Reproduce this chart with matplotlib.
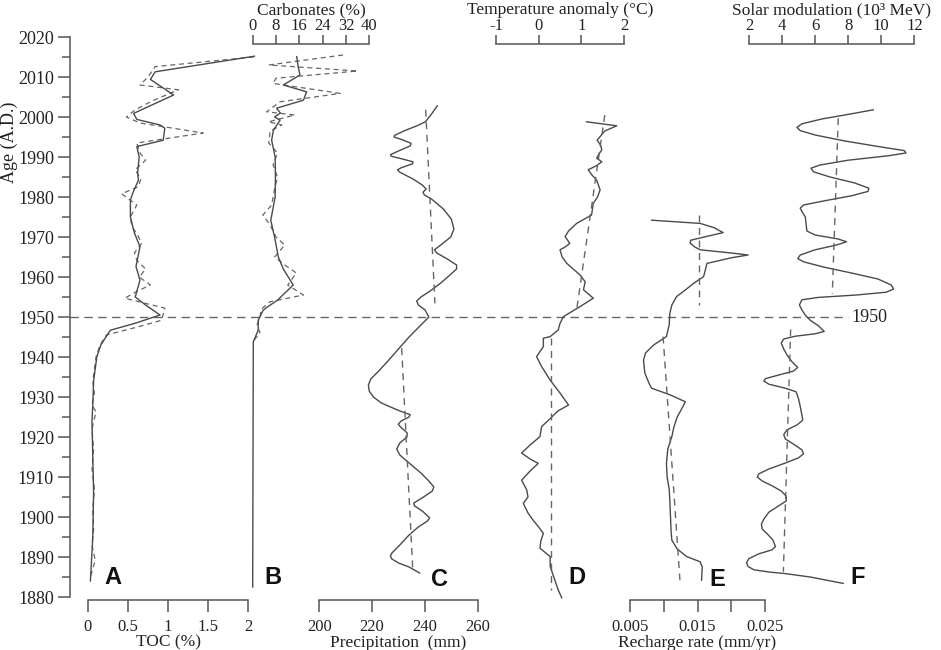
import matplotlib.pyplot as plt
from matplotlib.ticker import MultipleLocator

plt.rcParams['font.family'] = ['Liberation Serif', 'DejaVu Serif']

# ---------------- data ----------------
# A: TOC (%), smoothed and raw
toc_year = [2015.2, 2011.3, 2009.4, 2005.5, 2000.9, 1999.4, 1998.0, 1997.2, 1994.2, 1992.6,
            1990.0, 1986.0, 1984.2, 1981.0, 1979.2, 1975.0, 1971.0, 1967.6, 1962.6, 1959.2,
            1955.0, 1953.0, 1950.5, 1948.5, 1946.7, 1943.0, 1940.0, 1934.0, 1928.0, 1924.0,
            1915.0, 1906.0, 1895.0, 1884.0]
toc_smooth = [2.08, 0.84, 0.78, 1.07, 0.57, 0.61, 0.90, 0.96, 0.94, 0.61,
              0.64, 0.62, 0.63, 0.56, 0.53, 0.53, 0.58, 0.65, 0.60, 0.65,
              0.59, 0.72, 0.90, 0.60, 0.28, 0.16, 0.11, 0.07, 0.06, 0.05,
              0.06, 0.07, 0.06, 0.03]
toc_raw_year = [2015.0, 2012.6, 2010.0, 2008.0, 2006.8, 2004.0, 2001.8, 2000.0, 1998.5, 1996.0,
                1993.5, 1991.0, 1989.2, 1986.8, 1984.5, 1982.6, 1980.8, 1978.0, 1975.0, 1972.6,
                1970.5, 1968.4, 1966.0, 1964.2, 1962.0, 1960.0, 1958.0, 1956.5, 1954.7, 1952.2,
                1949.2, 1947.5, 1945.5, 1943.0, 1940.0, 1937.0, 1934.0, 1930.9, 1928.0, 1926.3,
                1922.0, 1917.0, 1912.0, 1907.0, 1902.0, 1897.0, 1893.0, 1889.2, 1885.0]
toc_raw = [2.07, 0.84, 0.75, 0.65, 1.13, 0.80, 0.59, 0.48, 0.65, 1.44,
           0.61, 0.65, 0.72, 0.59, 0.66, 0.63, 0.42, 0.61, 0.53, 0.55,
           0.62, 0.67, 0.58, 0.61, 0.72, 0.64, 0.78, 0.62, 0.46, 0.96,
           0.92, 0.62, 0.23, 0.15, 0.10, 0.08, 0.06, 0.08, 0.05, 0.10,
           0.05, 0.07, 0.05, 0.08, 0.06, 0.07, 0.05, 0.09, 0.03]

# B: carbonates (%)
carb_year = [2015.1, 2013.0, 2010.5, 2008.0, 2006.3, 2004.2, 2002.2, 2001.0, 2000.0, 1999.2,
             1996.7, 1994.2, 1990.0, 1985.0, 1980.0, 1974.2, 1970.0, 1965.0, 1962.0, 1958.0,
             1954.2, 1952.5, 1951.7, 1949.2, 1946.7, 1943.8, 1882.5]
carb_smooth = [15.1, 15.5, 16.2, 10.5, 18.5, 17.4, 8.2, 9.5, 7.5, 9.4,
               7.1, 6.5, 7.7, 7.8, 7.7, 6.2, 7.5, 8.8, 10.5, 13.9,
               8.5, 5.0, 3.6, 1.9, 1.9, 0.2, 0.0]
carb_raw_year = [2015.5, 2013.0, 2011.5, 2009.7, 2008.4, 2005.9, 2003.8, 2001.3, 2000.5, 1998.8,
                 1998.0, 1996.5, 1993.5, 1991.0, 1988.0, 1985.0, 1982.0, 1978.0, 1975.5, 1973.0,
                 1970.0, 1968.0, 1965.0, 1963.0, 1961.0, 1958.0, 1955.5, 1953.8, 1952.0, 1950.0,
                 1948.0, 1946.0, 1944.0]
carb_raw = [31.0, 5.5, 36.0, 8.0, 7.0, 30.0, 9.4, 4.8, 14.5, 5.4,
            10.0, 6.0, 5.5, 8.5, 7.0, 8.5, 7.5, 6.5, 3.5, 6.0,
            8.0, 11.0, 7.5, 11.0, 15.0, 12.0, 17.4, 5.9, 3.0, 2.5,
            1.5, 2.5, 0.2]

# C: precipitation (mm)
prec_year = [2002.8, 2001.0, 1998.8, 1997.8, 1996.5, 1995.4, 1995.0, 1994.3, 1993.4, 1992.8,
             1991.5, 1990.6, 1990.2, 1989.5, 1988.8, 1988.3, 1987.3, 1986.8, 1986.2, 1984.5,
             1983.0, 1982.0, 1981.2, 1980.5, 1979.5, 1977.0, 1974.5, 1972.0, 1970.0, 1968.0,
             1966.8, 1966.0, 1964.5, 1963.0, 1962.0, 1960.5, 1958.5, 1956.5, 1955.0, 1954.0,
             1953.0, 1951.8, 1950.0, 1948.0, 1945.0, 1942.0, 1939.0, 1936.5, 1934.5, 1933.0,
             1931.5, 1930.0, 1928.5, 1926.5, 1925.6, 1925.0, 1924.0, 1923.2, 1922.5, 1921.0,
             1920.0, 1918.5, 1917.0, 1915.5, 1913.5, 1911.0, 1909.0, 1907.5, 1906.5, 1905.0,
             1903.5, 1902.8, 1901.5, 1899.8, 1899.0, 1897.5, 1895.5, 1893.0, 1891.0, 1890.2,
             1889.5, 1888.5, 1887.5, 1886.0]
prec = [244.7, 242.8, 240.2, 237.0, 232.0, 228.5, 228.3, 231.5, 234.8, 234.5,
        230.0, 227.0, 227.2, 231.5, 235.5, 235.3, 231.0, 229.6, 230.5, 235.5,
        239.0, 240.5, 239.3, 239.8, 242.5, 247.0, 250.0, 251.0, 249.8, 246.0,
        243.6, 244.5, 248.5, 252.0, 252.0, 249.5, 246.0, 242.0, 238.5, 236.9,
        237.5, 240.0, 241.5, 238.5, 234.0, 230.0, 226.0, 222.5, 219.5, 218.6,
        218.9, 220.5, 223.5, 230.5, 234.4, 234.0, 231.0, 229.9, 230.8, 233.3,
        233.2, 230.5, 229.3, 230.5, 234.0, 238.5, 241.5, 243.4, 242.8, 239.5,
        235.8, 236.0, 239.0, 241.8, 241.0, 237.5, 234.0, 230.5, 227.5, 226.9,
        227.5, 230.0, 234.0, 238.0]
prec_trend = [([2001.8, 1953.4], [240.3, 243.8]), ([1942.2, 1886.8], [231.2, 235.4])]

# D: temperature anomaly (degC)
temp_year = [1998.8, 1997.8, 1996.5, 1994.2, 1993.0, 1991.8, 1990.5, 1989.7, 1988.8, 1987.8,
             1986.8, 1985.5, 1984.2, 1981.8, 1980.0, 1978.4, 1975.5, 1973.4, 1971.5, 1970.1,
             1968.4, 1967.5, 1966.8, 1965.0, 1963.4, 1960.5, 1958.8, 1956.8, 1954.7, 1952.6,
             1950.1, 1948.4, 1946.8, 1945.1, 1944.7, 1942.6, 1940.1, 1937.6, 1934.2, 1931.0,
             1928.0, 1926.5, 1924.6, 1922.6, 1920.1, 1918.0, 1916.0, 1914.5, 1913.4, 1911.5,
             1909.2, 1906.8, 1905.0, 1903.4, 1901.0, 1899.2, 1897.5, 1895.9, 1894.0, 1892.2,
             1890.1, 1887.6, 1884.2, 1882.0, 1879.8]
temp = [1.12, 1.83, 1.55, 1.37, 1.45, 1.48, 1.40, 1.36, 1.48, 1.35,
        1.16, 1.25, 1.36, 1.44, 1.38, 1.28, 1.24, 0.89, 0.70, 0.62,
        0.73, 0.62, 0.50, 0.55, 0.66, 0.97, 1.09, 1.05, 1.28, 0.97,
        0.58, 0.50, 0.46, 0.27, 0.11, 0.11, -0.05, 0.07, 0.27, 0.50,
        0.70, 0.45, 0.27, 0.07, 0.03, -0.20, -0.40, -0.20, -0.01, -0.20,
        -0.40, -0.28, -0.25, -0.36, -0.25, -0.13, 0.00, 0.11, 0.05, 0.03,
        0.27, 0.27, 0.38, 0.45, 0.54]
temp_trend = [([2000.5, 1951.8], [1.55, 0.89]), ([1944.7, 1881.8], [0.30, 0.30])]

# E: recharge rate (mm/yr)
rech_year = [1974.2, 1973.4, 1972.3, 1971.1, 1970.0, 1969.2, 1968.5, 1967.5, 1966.8, 1966.0,
             1965.5, 1964.8, 1963.4, 1962.0, 1960.1, 1958.5, 1956.5, 1955.1, 1953.0, 1950.9,
             1948.0, 1945.1, 1943.0, 1941.0, 1939.2, 1936.0, 1933.5, 1932.2, 1930.5, 1928.8,
             1927.5, 1925.0, 1922.5, 1920.1, 1917.0, 1913.4, 1910.0, 1907.0, 1904.2, 1900.0,
             1896.0, 1894.2, 1892.0, 1890.1, 1888.8, 1887.5, 1884.2]
rech = [0.0082, 0.0154, 0.0175, 0.0188, 0.0160, 0.0140, 0.0139, 0.0146, 0.0154, 0.0200,
        0.0225, 0.0200, 0.0164, 0.0162, 0.0159, 0.0145, 0.0130, 0.0119, 0.0112, 0.0109,
        0.0108, 0.0104, 0.0085, 0.0073, 0.0070, 0.0072, 0.0078, 0.0082, 0.0110, 0.0132,
        0.0128, 0.0120, 0.0115, 0.0112, 0.0106, 0.0104, 0.0105, 0.0108, 0.0109, 0.0110,
        0.0111, 0.0112, 0.0120, 0.0134, 0.0154, 0.0157, 0.0156]
rech_trend = [([1975.5, 1953.0], [0.0152, 0.0152]), ([1945.1, 1884.2], [0.0099, 0.0124])]

# F: solar modulation (10^3 MeV)
solar_year = [2001.8, 2000.8, 1999.5, 1998.3, 1997.4, 1996.6, 1995.5, 1994.0, 1992.5, 1991.6,
              1991.0, 1990.3, 1989.2, 1988.0, 1987.2, 1986.3, 1985.0, 1983.5, 1982.2, 1981.4,
              1980.3, 1979.0, 1978.0, 1977.2, 1976.0, 1975.1, 1973.5, 1971.5, 1970.5, 1969.5,
              1968.8, 1968.0, 1966.8, 1965.5, 1964.6, 1963.8, 1962.5, 1961.0, 1959.5, 1958.0,
              1957.0, 1956.2, 1955.5, 1954.9, 1954.3, 1953.0, 1951.8, 1950.5, 1949.2, 1947.8,
              1946.4, 1945.8, 1945.2, 1944.5, 1943.5, 1942.0, 1940.5, 1938.8, 1937.4, 1936.5,
              1935.5, 1934.6, 1934.0, 1933.2, 1932.2, 1931.3, 1929.5, 1927.6, 1925.5, 1924.2,
              1923.0, 1921.8, 1920.6, 1919.5, 1918.2, 1916.8, 1915.8, 1914.8, 1913.5, 1912.0,
              1910.8, 1910.0, 1909.0, 1907.8, 1906.5, 1905.2, 1904.0, 1902.8, 1901.2, 1899.5,
              1898.2, 1897.0, 1895.8, 1894.2, 1892.6, 1891.8, 1890.8, 1889.6, 1888.6, 1887.6,
              1886.8, 1886.2, 1885.9, 1885.0, 1884.2, 1883.4]
solar = [9.52, 8.2, 6.4, 5.2, 4.9, 5.1, 6.0, 7.8, 10.0, 11.4,
         11.5, 10.4, 8.0, 6.3, 5.75, 5.9, 6.9, 8.4, 9.25, 9.2,
         8.2, 6.5, 5.3, 5.1, 5.25, 5.4, 5.45, 5.5, 6.0, 7.4,
         7.9, 7.3, 6.0, 5.1, 4.95, 5.3, 6.5, 8.2, 9.8, 10.6,
         10.75, 10.3, 8.5, 6.2, 5.2, 5.05, 5.2, 5.4, 5.7, 6.2,
         6.55, 6.0, 4.8, 4.1, 3.95, 4.1, 4.3, 4.6, 4.95, 4.7,
         3.8, 3.0, 2.9, 3.2, 4.2, 4.85, 5.0, 5.1, 5.2, 5.25,
         4.9, 4.3, 4.1, 4.2, 4.7, 5.2, 5.3, 5.0, 4.2, 3.2,
         2.6, 2.5, 2.8, 3.4, 3.95, 4.25, 4.25, 3.8, 3.2, 2.9,
         2.75, 2.8, 3.1, 3.45, 3.6, 3.4, 2.6, 2.0, 1.85, 1.95,
         2.3, 3.3, 4.1, 5.7, 6.7, 7.7]
solar_trend = [([1999.7, 1955.8], [7.40, 7.04]), ([1946.9, 1886.3], [4.52, 4.08])]

# ---------------- layout ----------------
W, H = 941.0, 650.0
PX_BOT, PX_TOP = 597, 37   # pixel rows of 1880 and 2020
LINE = '#4a4a4a'
DASH = '#666666'
AXC = '#555555'
TXT = '#222222'

fig = plt.figure(figsize=(9.41, 6.5), dpi=100)


def panel(x0, x1, lo, hi, side, ticks, labels, title):
    ax = fig.add_axes([x0 / W, 1 - PX_BOT / H, (x1 - x0) / W, (PX_BOT - PX_TOP) / H])
    ax.set_xlim(lo, hi)
    ax.set_ylim(1880, 2020)
    ax.patch.set_visible(False)
    for s in ax.spines.values():
        s.set_visible(False)
    ax.set_yticks([])
    sp = ax.spines[side]
    sp.set_visible(True)
    sp.set_bounds(lo, hi)
    sp.set_color(AXC)
    sp.set_linewidth(1.1)
    ax.xaxis.set_ticks_position(side)
    ax.xaxis.set_label_position(side)
    ax.set_xticks(ticks)
    ax.set_xticklabels(labels)
    if side == 'top':
        sp.set_position(('data', 2018.25))
        ax.tick_params(axis='x', direction='out', length=6.5, width=1.1, color=AXC,
                       labelsize=12, labelcolor=TXT, pad=1)
        ax.set_xlabel(title, fontsize=12.5, color=TXT, labelpad=2.5)
    else:
        sp.set_position(('outward', 2))
        ax.tick_params(axis='x', direction='out', length=8.5, width=1.1, color=AXC,
                       labelsize=12, labelcolor=TXT, pad=5)
        ax.set_xlabel(title, fontsize=12.5, color=TXT, labelpad=0)
    return ax


# age axis
ax0 = fig.add_axes([70 / W, 1 - PX_BOT / H, (W - 70) / W, (PX_BOT - PX_TOP) / H])
ax0.set_ylim(1880, 2020)
ax0.set_xlim(0, 1)
ax0.patch.set_visible(False)
for k in ['top', 'right', 'bottom']:
    ax0.spines[k].set_visible(False)
ax0.spines['left'].set_color(AXC)
ax0.spines['left'].set_linewidth(1.1)
ax0.set_xticks([])
ax0.yaxis.set_major_locator(MultipleLocator(10))
ax0.yaxis.set_minor_locator(MultipleLocator(5))
ax0.tick_params(axis='y', which='major', length=8.5, width=1.1, color=AXC, labelsize=13,
                labelcolor=TXT, pad=3)
ax0.tick_params(axis='y', which='minor', length=6, width=1.1, color=AXC)
ax0.axhline(1950, xmin=0, xmax=(848 - 70) / (W - 70), color=DASH, lw=1.0, ls=(0, (6, 4)))
ax0.text((851 - 70) / (W - 70), 1950, '1950', transform=ax0.get_yaxis_transform(),
         ha='left', va='center', fontsize=13, color=TXT)
fig.text(9 / W, 1 - 142 / H, 'Age (A.D.)', rotation=90, ha='center', va='center',
         fontsize=13, color=TXT)

axA = panel(88, 248, 0, 2, 'bottom', [0, 0.5, 1, 1.5, 2], ['0', '0.5', '1', '1.5', '2'], 'TOC (%)')
axA.plot(toc_raw, toc_raw_year, color=DASH, lw=0.9, ls=(0, (4, 3)), clip_on=False)
axA.plot(toc_smooth, toc_year, color=LINE, lw=1.0, clip_on=False)

axB = panel(252.7, 369.3, 0, 40, 'top', [0, 8, 16, 24, 32, 40],
            ['0', '8', '16', '24', '32', '40'], 'Carbonates (%)')
axB.plot(carb_raw, carb_raw_year, color=DASH, lw=0.9, ls=(0, (4, 3)), clip_on=False)
axB.plot(carb_smooth, carb_year, color=LINE, lw=1.0, clip_on=False)

axC = panel(319.3, 477.7, 200, 260, 'bottom', [200, 220, 240, 260],
            ['200', '220', '240', '260'], 'Precipitation  (mm)')
axC.plot(prec, prec_year, color=LINE, lw=1.0, clip_on=False)
for yy, xx in prec_trend:
    axC.plot(xx, yy, color=DASH, lw=1.0, ls=(0, (5, 4)), clip_on=False)

axD = panel(496, 624, -1, 2, 'top', [-1, 0, 1, 2], ['-1', '0', '1', '2'],
            'Temperature anomaly (°C)')
axD.plot(temp, temp_year, color=LINE, lw=1.0, clip_on=False)
for yy, xx in temp_trend:
    axD.plot(xx, yy, color=DASH, lw=1.0, ls=(0, (5, 4)), clip_on=False)

axE = panel(630, 765, 0.005, 0.025, 'bottom', [0.005, 0.01, 0.015, 0.02, 0.025],
            ['0.005', '', '0.015', '', '0.025'], 'Recharge rate (mm/yr)')
axE.plot(rech, rech_year, color=LINE, lw=1.0, clip_on=False)
for yy, xx in rech_trend:
    axE.plot(xx, yy, color=DASH, lw=1.0, ls=(0, (5, 4)), clip_on=False)

axF = panel(749, 914.3, 2, 12, 'top', [2, 4, 6, 8, 10, 12],
            ['2', '4', '6', '8', '10', '12'], 'Solar modulation (10³ MeV)')
axF.plot(solar, solar_year, color=LINE, lw=1.0, clip_on=False)
for yy, xx in solar_trend:
    axF.plot(xx, yy, color=DASH, lw=1.0, ls=(0, (5, 4)), clip_on=False)

# panel letters
for letter, px, py in [('A', 113, 578), ('B', 273, 578), ('C', 439, 579),
                       ('D', 577, 578), ('E', 717, 579), ('F', 858, 578)]:
    fig.text(px / W, 1 - py / H, letter, ha='center', va='center', fontsize=17,
             fontweight='bold', family=['Liberation Sans', 'DejaVu Sans'], color='#111111')

fig.savefig('out.png', dpi=100)
